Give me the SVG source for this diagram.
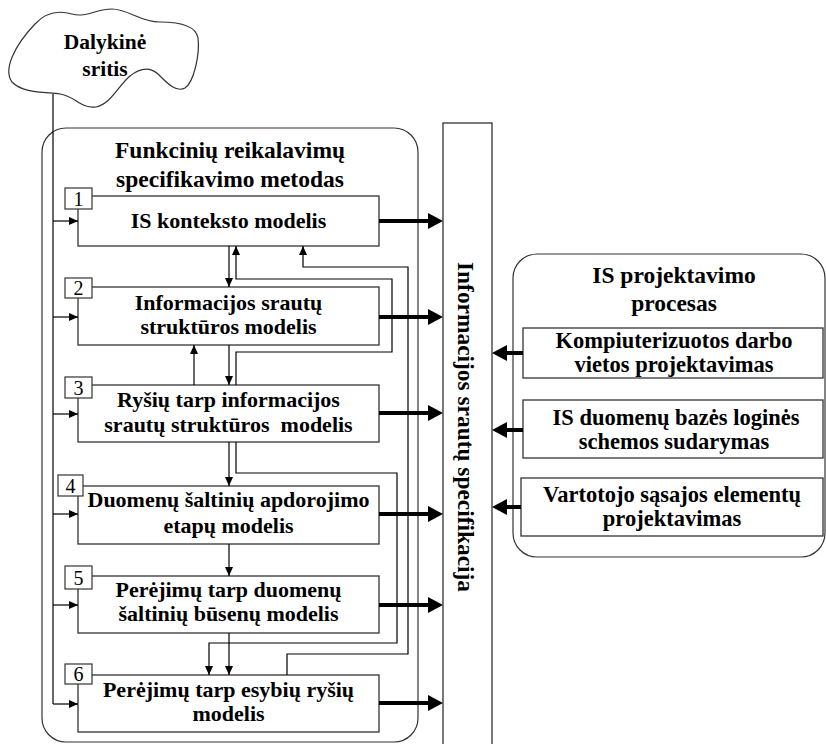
<svg xmlns="http://www.w3.org/2000/svg" width="826" height="744" viewBox="0 0 826 744">
  <style>
    .bg { fill: #ffffff; }
    .box { fill: #ffffff; stroke: #333333; stroke-width: 1.3; }
    .frame { fill: none; stroke: #333333; stroke-width: 1.2; }
    .num { fill: #ffffff; stroke: #333333; stroke-width: 1.2; }
    .t { font-family: "Liberation Serif", "Times New Roman", serif; font-weight: bold; fill: #000000; text-anchor: middle; }
    .n { font-family: "Liberation Serif", "Times New Roman", serif; font-size: 20px; fill: #000000; text-anchor: middle; }
    .s22 { font-size: 22px; }
    .s23 { font-size: 23.5px; }
    .thin { fill: none; stroke: #000000; stroke-width: 1.2; marker-end: url(#tip); }
    .line { fill: none; stroke: #000000; stroke-width: 1.2; }
    .thick { fill: none; stroke: #000000; stroke-width: 4; marker-end: url(#bigtip); }
  </style>
  <defs>
    <marker id="tip" viewBox="0 0 9 8" refX="9" refY="4" markerWidth="9" markerHeight="8" markerUnits="userSpaceOnUse" orient="auto">
      <path d="M0,0 L9,4 L0,8 Z" fill="#000000"/>
    </marker>
    <marker id="bigtip" viewBox="0 0 15 16" refX="0" refY="8" markerWidth="15" markerHeight="16" markerUnits="userSpaceOnUse" orient="auto">
      <path d="M0,0 L15,8 L0,16 Z" fill="#000000"/>
    </marker>
  </defs>

  <rect class="bg" x="0" y="0" width="826" height="744"/>

  <!-- Subject area cloud -->
  <g id="cloud">
    <path class="frame" d="M35,24 C46,12 58,10 72,14 C86,18 96,9 112,9 C128,9 140,22 160,22 C180,22 196,26 198,38 C200,54 194,82 185,88 C176,93 166,82 158,74 C150,67 140,68 130,76 C118,86 111,104 96,107 C81,109 75,96 60,94 C45,92 22,93 12,82 C3,70 14,46 35,24 Z"/>
    <text class="t" x="105" y="49" style="font-size:21.5px">Dalykinė</text>
    <text class="t" x="105" y="76" style="font-size:21.5px">sritis</text>
  </g>

  <!-- Method frame -->
  <g id="method">
    <rect class="frame" x="42" y="128" width="376" height="614" rx="24" ry="24"/>
    <text class="t s23" x="230" y="158">Funkcinių reikalavimų</text>
    <text class="t s23" x="230" y="187">specifikavimo metodas</text>
  </g>

  <!-- Specification column -->
  <g id="spec">
    <rect class="box" x="443" y="123" width="49" height="640"/>
    <text class="t" transform="translate(458,427) rotate(90)" style="font-size:23.4px">Informacijos srautų specifikacija</text>
  </g>

  <!-- Design process frame -->
  <g id="design">
    <rect class="frame" x="513" y="254" width="312" height="303" rx="24" ry="24"/>
    <text class="t s23" x="674" y="283">IS projektavimo</text>
    <text class="t s23" x="674" y="311">procesas</text>
  </g>

  <g id="design-a">
    <rect class="box" x="523" y="328" width="300" height="50"/>
    <text class="t" x="674" y="348" style="font-size:22.5px">Kompiuterizuotos darbo</text>
    <text class="t" x="674" y="372" style="font-size:22.5px">vietos projektavimas</text>
  </g>
  <g id="design-b">
    <rect class="box" x="523" y="400" width="300" height="58"/>
    <text class="t" x="676" y="425" style="font-size:22.5px">IS duomenų bazės loginės</text>
    <text class="t" x="674" y="449" style="font-size:22.5px">schemos sudarymas</text>
  </g>
  <g id="design-c">
    <rect class="box" x="521" y="478" width="302" height="58"/>
    <text class="t" x="672" y="502" style="font-size:22.5px">Vartotojo sąsajos elementų</text>
    <text class="t" x="672" y="526" style="font-size:22.5px">projektavimas</text>
  </g>

  <!-- Model steps -->
  <g id="step1">
    <rect class="box" x="78" y="196" width="301" height="50"/>
    <rect class="num" x="65" y="188" width="27" height="21"/>
    <text class="n" x="78.5" y="206">1</text>
    <text class="t s22" x="228.5" y="228">IS konteksto modelis</text>
  </g>
  <g id="step2">
    <rect class="box" x="78" y="287" width="301" height="58"/>
    <rect class="num" x="65" y="278" width="27" height="20"/>
    <text class="n" x="78.5" y="295">2</text>
    <text class="t s22" x="228.5" y="310">Informacijos srautų</text>
    <text class="t s22" x="228.5" y="334">struktūros modelis</text>
  </g>
  <g id="step3">
    <rect class="box" x="78" y="385" width="301" height="57"/>
    <rect class="num" x="65" y="377" width="27" height="21"/>
    <text class="n" x="78.5" y="395">3</text>
    <text class="t s22" x="228.5" y="407">Ryšių tarp informacijos</text>
    <text class="t s22" x="228.5" y="432" xml:space="preserve">srautų struktūros  modelis</text>
  </g>
  <g id="step4">
    <rect class="box" x="78" y="486" width="301" height="58"/>
    <rect class="num" x="58" y="475" width="25" height="21"/>
    <text class="n" x="70.5" y="493">4</text>
    <text class="t s22" x="228.5" y="507">Duomenų šaltinių apdorojimo</text>
    <text class="t s22" x="228.5" y="533">etapų modelis</text>
  </g>
  <g id="step5">
    <rect class="box" x="78" y="576" width="301" height="57"/>
    <rect class="num" x="65" y="566" width="27" height="23"/>
    <text class="n" x="78.5" y="585">5</text>
    <text class="t s22" x="228.5" y="597">Perėjimų tarp duomenų</text>
    <text class="t s22" x="228.5" y="621">šaltinių būsenų modelis</text>
  </g>
  <g id="step6">
    <rect class="box" x="78" y="675" width="301" height="57"/>
    <rect class="num" x="65" y="664" width="27" height="20"/>
    <text class="n" x="78.5" y="681">6</text>
    <text class="t s22" x="228.5" y="697">Perėjimų tarp esybių ryšių</text>
    <text class="t s22" x="228.5" y="721">modelis</text>
  </g>

  <!-- Connectors -->
  <g id="connectors">
    <!-- input bus from the subject area -->
    <path class="line" d="M53,94 V704"/>
    <path class="thin" d="M53,221 H78"/>
    <path class="thin" d="M53,317 H78"/>
    <path class="thin" d="M53,414 H78"/>
    <path class="thin" d="M53,514 H78"/>
    <path class="thin" d="M53,605 H78"/>
    <path class="thin" d="M53,704 H78"/>

    <!-- steps feeding the specification -->
    <path class="thick" d="M379,221 H428"/>
    <path class="thick" d="M379,317 H428"/>
    <path class="thick" d="M379,413 H428"/>
    <path class="thick" d="M379,514 H428"/>
    <path class="thick" d="M379,605 H428"/>
    <path class="thick" d="M379,703 H428"/>

    <!-- design activities feeding the specification -->
    <path class="thick" d="M523,353 H507"/>
    <path class="thick" d="M523,430 H507"/>
    <path class="thick" d="M521,507 H507"/>

    <!-- step to step links -->
    <path class="thin" d="M229,246 V287"/>
    <path class="thin" d="M229,345 V385"/>
    <path class="thin" d="M194,385 V345"/>
    <path class="thin" d="M236,385 V352 H392 V279 H236 V246"/>
    <path class="thin" d="M229,442 V486"/>
    <path class="thin" d="M236,442 V473 H397 V643 H209 V675"/>
    <path class="thin" d="M229,544 V576"/>
    <path class="thin" d="M229,633 V675"/>
    <path class="thin" d="M287,675 V654 H408 V267 H303 V246"/>
  </g>
</svg>
